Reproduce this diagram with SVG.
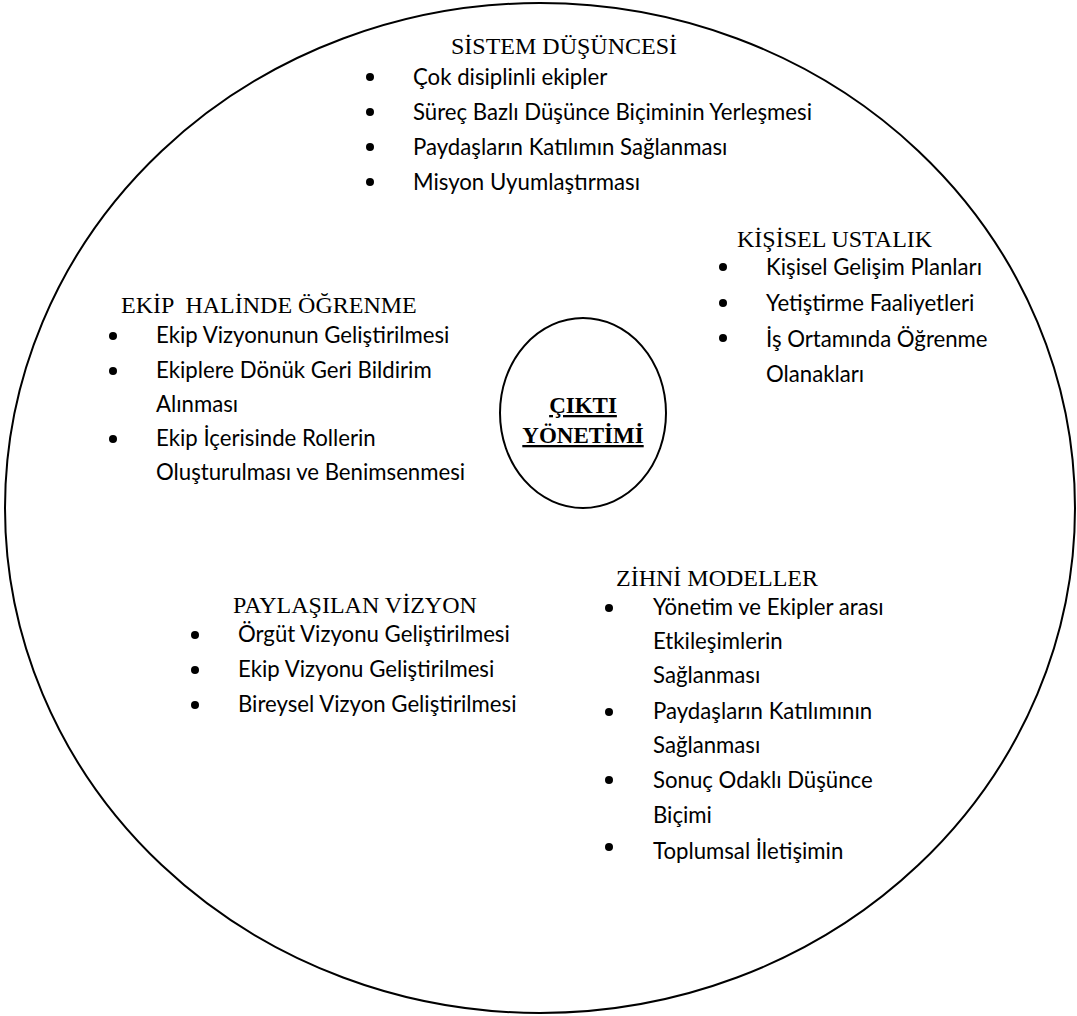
<svg xmlns="http://www.w3.org/2000/svg" width="1077" height="1016" viewBox="0 0 1077 1016">
  <style>
    .ring { fill: none; stroke: #000; stroke-width: 2; }
    .head { font-family: "Liberation Serif", "Times New Roman", serif; font-size: 24px; fill: #000; }
    .core { font-family: "Liberation Serif", "Times New Roman", serif; font-size: 23px; font-weight: bold; fill: #000; text-decoration: underline; text-anchor: middle; }
    .item { font-family: Lato, "Open Sans", sans-serif; font-size: 22.2px; fill: #000; }
    .dot { fill: #000; }
  </style>
  <rect width="1077" height="1016" fill="#fff"/>

  <!-- outer boundary -->
  <g id="outer">
    <ellipse class="ring" cx="540" cy="508" rx="535" ry="505"/>
  </g>

  <!-- centre: output management -->
  <g id="center">
    <ellipse class="ring" cx="583" cy="413" rx="83" ry="95"/>
    <text class="core" x="583" y="413">ÇIKTI</text>
    <text class="core" x="583" y="443">YÖNETİMİ</text>
  </g>

  <!-- systems thinking -->
  <g id="sistem">
    <text class="head" x="451" y="54">SİSTEM DÜŞÜNCESİ</text>
    <circle class="dot" cx="370" cy="77" r="4"/>
    <circle class="dot" cx="370" cy="112" r="4"/>
    <circle class="dot" cx="370" cy="147" r="4"/>
    <circle class="dot" cx="370" cy="182" r="4"/>
    <text class="item" x="413" y="85">Çok disiplinli ekipler</text>
    <text class="item" x="413" y="120">Süreç Bazlı Düşünce Biçiminin Yerleşmesi</text>
    <text class="item" x="413" y="155">Paydaşların Katılımın Sağlanması</text>
    <text class="item" x="413" y="190">Misyon Uyumlaştırması</text>
  </g>

  <!-- personal mastery -->
  <g id="kisisel">
    <text class="head" x="737" y="247">KİŞİSEL USTALIK</text>
    <circle class="dot" cx="723" cy="267" r="4"/>
    <circle class="dot" cx="723" cy="303" r="4"/>
    <circle class="dot" cx="723" cy="338" r="4"/>
    <text class="item" x="766" y="275">Kişisel Gelişim Planları</text>
    <text class="item" x="766" y="311">Yetiştirme Faaliyetleri</text>
    <text class="item" x="766" y="347">İş Ortamında Öğrenme</text>
    <text class="item" x="766" y="382">Olanakları</text>
  </g>

  <!-- team learning -->
  <g id="ekip">
    <text class="head" x="121" y="313" xml:space="preserve">EKİP  HALİNDE ÖĞRENME</text>
    <circle class="dot" cx="113" cy="336" r="4"/>
    <circle class="dot" cx="113" cy="371" r="4"/>
    <circle class="dot" cx="113" cy="439" r="4"/>
    <text class="item" x="156" y="343">Ekip Vizyonunun Geliştirilmesi</text>
    <text class="item" x="156" y="378">Ekiplere Dönük Geri Bildirim</text>
    <text class="item" x="156" y="412">Alınması</text>
    <text class="item" x="156" y="446">Ekip İçerisinde Rollerin</text>
    <text class="item" x="156" y="480">Oluşturulması ve Benimsenmesi</text>
  </g>

  <!-- shared vision -->
  <g id="paylasilan">
    <text class="head" x="233" y="613">PAYLAŞILAN VİZYON</text>
    <circle class="dot" cx="195" cy="635" r="4"/>
    <circle class="dot" cx="195" cy="670" r="4"/>
    <circle class="dot" cx="195" cy="705" r="4"/>
    <text class="item" x="238" y="642">Örgüt Vizyonu Geliştirilmesi</text>
    <text class="item" x="238" y="677">Ekip Vizyonu Geliştirilmesi</text>
    <text class="item" x="238" y="712">Bireysel Vizyon Geliştirilmesi</text>
  </g>

  <!-- mental models -->
  <g id="zihni">
    <text class="head" x="616" y="586">ZİHNİ MODELLER</text>
    <circle class="dot" cx="609" cy="608" r="4"/>
    <circle class="dot" cx="609" cy="712" r="4"/>
    <circle class="dot" cx="609" cy="780" r="4"/>
    <circle class="dot" cx="609" cy="847" r="4"/>
    <text class="item" x="653" y="615">Yönetim ve Ekipler arası</text>
    <text class="item" x="653" y="649">Etkileşimlerin</text>
    <text class="item" x="653" y="683">Sağlanması</text>
    <text class="item" x="653" y="719">Paydaşların Katılımının</text>
    <text class="item" x="653" y="753">Sağlanması</text>
    <text class="item" x="653" y="788">Sonuç Odaklı Düşünce</text>
    <text class="item" x="653" y="823">Biçimi</text>
    <text class="item" x="653" y="859">Toplumsal İletişimin</text>
  </g>
</svg>
